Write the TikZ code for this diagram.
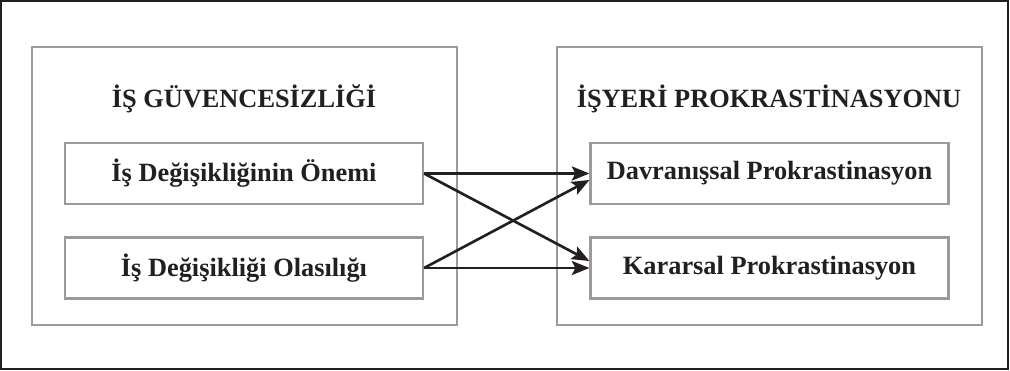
\documentclass[tikz,border=0pt]{standalone}
\usepackage{fontspec}
\setmainfont{Liberation Serif}
\usetikzlibrary{arrows.meta}
\definecolor{ink}{HTML}{231F20}
\definecolor{boxgray}{HTML}{9B9B9B}

\begin{document}
\begin{tikzpicture}[x=0.02cm,y=-0.02cm]
        \tikzstyle{group}=[draw=boxgray,line width=1.3pt,minimum width=8.5cm,minimum height=5.56cm]
        \tikzstyle{factor}=[draw=boxgray,line width=1.3pt,minimum width=7.16cm,minimum height=1.22cm,text=ink,font=\fontsize{15}{18}\selectfont\bfseries]
        \tikzstyle{heading}=[anchor=base,text=ink,font=\fontsize{15}{18}\selectfont\bfseries]
        \tikzstyle{link}=[draw=ink,line width=1.5pt,-{Stealth[length=10pt,width=8pt,inset=2pt]}]
        \useasboundingbox (0,0) rectangle (1010,371);
        % outer frame
        \draw[ink,line width=0.7pt] (1,1) rectangle (1008,369);
        % independent side
        \node [group] (guv) at (244.5,186) {};
        \node [heading] (guvt) at (244,108) {İŞ GÜVENCESİZLİĞİ};
        \node [factor] (onem) at (244,173.5) {İş Değişikliğinin Önemi};
        \node [factor] (olas) at (244,268) {İş Değişikliği Olasılığı};
        % dependent side
        \node [group] (pro) at (769.5,186) {};
        \node [heading] (prot) at (769,108) {İŞYERİ PROKRASTİNASYONU};
        \node [factor] (davr) at (769.5,173.5) {Davranışsal Prokrastinasyon};
        \node [factor] (kara) at (769.5,268) {Kararsal Prokrastinasyon};
        % paths
        \path[link] (onem.east) -- (davr.west);
        \path[link] (onem.east) -- ([yshift=0.14cm]kara.west);
        \path[link] (olas.east) -- ([yshift=-0.13cm]davr.west);
        \path[link] (olas.east) -- (kara.west);
\end{tikzpicture}
\end{document}
